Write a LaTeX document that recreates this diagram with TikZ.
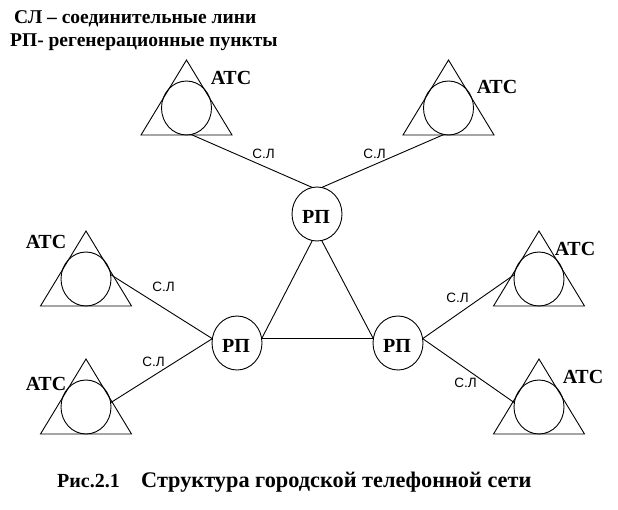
\documentclass[tikz,border=0pt]{standalone}
\usepackage{fontspec}
\setmainfont{Liberation Serif}
\newfontfamily\labelfont{Liberation Sans}
\usetikzlibrary{shapes.geometric}
\newcommand{\rplabel}{\raisebox{-9.5pt}[0pt][0pt]{\kern-2pt РП}}
\tikzset{
  stationnode/.style={ellipse,draw=black,line width=0.9pt,minimum width=50pt,minimum height=54pt,inner sep=0pt,outer sep=0pt,font=\fontsize{20}{24}\selectfont\bfseries},
  link/.style={draw=black,line width=0.9pt},
  linklabel/.style={font=\fontsize{13.5}{16}\selectfont\labelfont,inner sep=0pt},
  atslabel/.style={font=\fontsize{20}{24}\selectfont\bfseries,inner sep=0pt},
  headtext/.style={anchor=west,inner sep=0pt,font=\fontsize{19.5}{24}\selectfont\bfseries},
  captiontext/.style={anchor=west,inner sep=0pt,font=\fontsize{22.3}{26}\selectfont\bfseries}
}
\begin{document}
\begin{tikzpicture}[x=1pt,y=-1pt,node distance=100pt]
\useasboundingbox (0,0) rectangle (618,509);

\node[headtext] (legendsl) at (14,18.5) {СЛ – соединительные лини};
\node[headtext] (legendrp) at (10,42) {РП- регенерационные пункты};

\node[stationnode] (ats1) at (186.5,108) {};
\node[stationnode, right of=ats1, xshift=162pt] (ats2) {};
\node[stationnode] (ats3) at (86,279) {};
\node[stationnode, below of=ats3, yshift=-28pt] (ats4) {};
\node[stationnode, right of=ats3, xshift=353pt] (ats5) {};
\node[stationnode, right of=ats4, xshift=353pt] (ats6) {};

\node[stationnode] (rptop) at (317,214) {\rplabel};
\node[stationnode, below of=rptop, xshift=-80pt, yshift=-29pt] (rpleft) {\rplabel};
\node[stationnode, right of=rpleft, xshift=61pt] (rpright) {\rplabel};

\foreach \n in {ats1,ats2,ats3,ats4,ats5,ats6}
  \draw[link] ([shift={(0pt,48pt)}]\n.center) -- ([shift={(-45.5pt,-27pt)}]\n.center)
    -- ([shift={(45.5pt,-27pt)}]\n.center) -- cycle;

\draw[link] (ats1.-80) -- (rptop.100);
\draw[link] (ats2.-100) -- (rptop.80);
\draw[link] (ats3.10) -- (rpleft.170);
\draw[link] (ats4.10) -- (rpleft.170);
\draw[link] (ats5.170) -- (rpright.10);
\draw[link] (ats6.170) -- (rpright.10);
\draw[link] (rptop.-100) -- (rpleft.10);
\draw[link] (rptop.-80) -- (rpright.170);
\draw[link] (rpleft.10) -- (rpright.170);

\node[atslabel] (lab1) at (231,78) {АТС};
\node[atslabel] (lab2) at (497,87) {АТС};
\node[atslabel] (lab3) at (46,242) {АТС};
\node[atslabel] (lab4) at (46,384) {АТС};
\node[atslabel] (lab5) at (575,249) {АТС};
\node[atslabel] (lab6) at (583,377) {АТС};

\node[linklabel] (sl1) at (263.5,154) {С.Л};
\node[linklabel] (sl2) at (374.5,154) {С.Л};
\node[linklabel] (sl3) at (163.5,287) {С.Л};
\node[linklabel] (sl4) at (153.5,362) {С.Л};
\node[linklabel] (sl5) at (457.5,298) {С.Л};
\node[linklabel] (sl6) at (465.5,383) {С.Л};

\node[headtext, font=\fontsize{20}{24}\selectfont\bfseries] (figno) at (57,481) {Рис.2.1};
\node[captiontext] (figtitle) at (141,482.5) {Структура городской телефонной сети};
\end{tikzpicture}
\end{document}
